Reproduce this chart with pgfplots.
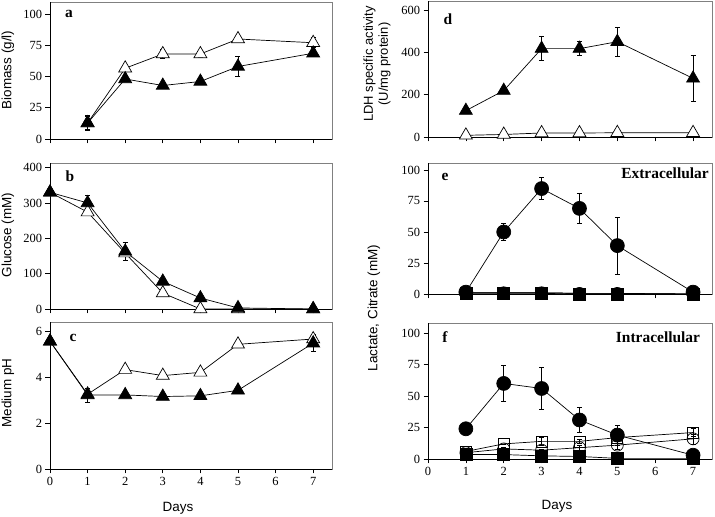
\documentclass[border=0pt]{standalone}
\usepackage{fontspec}
\setmainfont{Liberation Serif}
\newfontfamily\arial{Liberation Sans}
\usepackage{pgfplots}
\pgfplotsset{compat=1.18}
\definecolor{framegray}{RGB}{128,128,128}
\pgfplotsset{
  panel/.style={
    scale only axis, anchor=south west,
    xmin=0, xmax=7.5, ymin=0,
    xtick={0,1,2,3,4,5,6,7},
    xticklabels={},
    tick align=outside, tick pos=left,
    major tick length=4.5bp,
    tick style={black, line width=0.7bp},
    axis line style={draw=framegray, line width=0.8bp},
    ticklabel style={font=\rmfamily\fontsize{12.5}{14}\selectfont},
    /pgf/number format/assume math mode=true,
    clip=false,
  },
  withxlabels/.style={xticklabels={0,1,2,3,4,5,6,7}},
  eb/.style={error bars/.cd, y dir=both, y explicit,
    error bar style={line width=0.6bp, black, solid},
    error mark options={rotate=90, mark size=2.5bp, line width=0.6bp, black}},
  ln/.style={black, line width=0.7bp},
  ftri/.style={ln, mark=triangle*, mark size=7.5bp, mark options={fill=black, draw=black, solid}},
  otri/.style={ln, mark=triangle*, mark size=7.5bp, mark options={fill=white, draw=black, solid}},
  fcirc/.style={ln, mark=*, mark size=7bp, mark options={fill=black, draw=black, solid}},
  ocirc/.style={ln, mark=o, mark size=6bp, mark options={draw=black, solid}},
  osq/.style={ln, mark=square, mark size=5.5bp, mark options={draw=black, solid}},
  fsq/.style={ln, mark=square*, mark size=6bp, mark options={fill=black, draw=black, solid}},
}
\newcommand{\axlines}{%
  \draw[black, line width=0.8bp] (rel axis cs:0,0) -- (rel axis cs:0,1);
  \draw[black, line width=0.8bp] (rel axis cs:0,0) -- (rel axis cs:1,0);}
\begin{document}
\begin{tikzpicture}
% ---------------- panel a
\begin{axis}[panel, at={(50bp,378bp)}, width=282bp, height=137bp,
  ymax=109.6, ytick={0,25,50,75,100}]
\addplot[otri, eb] coordinates {(1,12.8)+-(0,5) (2,56.6)+-(0,1) (3,68)+-(0,3.5) (4,68)+-(0,3) (5,80)+-(0,2) (7,77)+-(0,4)};
\addplot[ftri, eb] coordinates {(1,12.8)+-(0,6) (2,48)+-(0,2) (3,42.8)+-(0,1) (4,46)+-(0,1) (5,58)+-(0,8) (7,68.6)+-(0,2)};
\axlines
\end{axis}
% ---------------- panel b
\begin{axis}[panel, at={(50bp,208bp)}, width=282bp, height=146bp,
  ymax=413, ytick={0,100,200,300,400}]
\addplot[otri, eb] coordinates {(0,330)+-(0,0) (1,274)+-(0,10) (2,158)+-(0,5) (3,45)+-(0,5) (4,0)+-(0,0) (5,0)+-(0,0) (7,0)+-(0,0)};
\addplot[ftri, eb] coordinates {(0,330)+-(0,0) (1,300)+-(0,23) (2,163)+-(0,26) (3,78)+-(0,5) (4,31)+-(0,3) (5,3)+-(0,0) (7,0)+-(0,0)};
\axlines
\end{axis}
% ---------------- panel c
\begin{axis}[panel, withxlabels, at={(50bp,48bp)}, width=282bp, height=147bp,
  ymax=6.39, ytick={0,2,4,6}]
\addplot[otri, eb] coordinates {(0,5.55)+-(0,0) (1,3.25)+-(0,0.1) (2,4.32)+-(0,0.1) (3,4.06)+-(0,0.1) (4,4.2)+-(0,0.1) (5,5.42)+-(0,0.1) (7,5.65)+-(0,0.2)};
\addplot[ftri, eb] coordinates {(0,5.55)+-(0,0) (1,3.22)+-(0,0.3) (2,3.22)+-(0,0.05) (3,3.15)+-(0,0.05) (4,3.18)+-(0,0.05) (5,3.42)+-(0,0.05) (7,5.47)+-(0,0.35)};
\axlines
\end{axis}
% ---------------- panel d
\begin{axis}[panel, at={(428bp,380bp)}, width=284bp, height=136bp,
  ymax=645, ytick={0,200,400,600}]
\addplot[otri, eb] coordinates {(1,8)+-(0,0) (2,12)+-(0,0) (3,19)+-(0,0) (4,19)+-(0,0) (5,20)+-(0,0) (7,20)+-(0,0)};
\addplot[ftri, eb] coordinates {(1,125)+-(0,0) (2,220)+-(0,0) (3,419)+-(0,57) (4,419)+-(0,33) (5,452)+-(0,68) (7,278)+-(0,110)};
\axlines
\end{axis}
% ---------------- panel e
\begin{axis}[panel, at={(428bp,223bp)}, width=284bp, height=131bp,
  ymax=105.6, ytick={0,25,50,75,100}]
\addplot[osq] coordinates {(1,1) (2,1) (3,1) (4,0.5) (5,0.5) (7,0)};
\addplot[ocirc] coordinates {(1,1) (2,1) (3,1) (4,0.5) (5,0.5) (7,0)};
\addplot[fsq] coordinates {(1,0.5) (2,0.5) (3,0.5) (4,0) (5,0) (7,0)};
\addplot[fcirc, eb] coordinates {(1,1.5)+-(0,0) (2,50)+-(0,7) (3,85)+-(0,9) (4,69)+-(0,12) (5,39)+-(0,23) (7,1.5)+-(0,0)};
\axlines
\end{axis}
% ---------------- panel f
\begin{axis}[panel, withxlabels, at={(428bp,58bp)}, width=284bp, height=136bp,
  ymax=108, ytick={0,25,50,75,100}]
\addplot[osq, eb] coordinates {(1,6)+-(0,0) (2,12)+-(0,0) (3,14)+-(0,3) (4,14)+-(0,1.5) (5,17)+-(0,0) (7,21)+-(0,3)};
\addplot[ocirc, eb] coordinates {(1,5)+-(0,0) (2,8)+-(0,1) (3,7)+-(0,1) (4,9)+-(0,2) (5,11)+-(0,3) (7,16)+-(0,4)};
\addplot[fsq] coordinates {(1,3.5) (2,3.5) (3,2.5) (4,2) (5,0.5) (7,0.5)};
\addplot[fcirc, eb] coordinates {(1,24)+-(0,0) (2,60)+-(0,14.5) (3,56)+-(0,16.5) (4,31)+-(0,10) (5,19)+-(0,8) (7,3)+-(0,0)};
\axlines
\end{axis}
% ---------------- texts
\begin{scope}[every node/.style={font=\rmfamily\bfseries\fontsize{15.5}{17}\selectfont, inner sep=0pt}]
\node at (69bp,503bp) {a};
\node at (70bp,341bp) {b};
\node at (73bp,179bp) {c};
\node at (448bp,498bp) {d};
\node at (445bp,340bp) {e};
\node at (445bp,180bp) {f};
\node at (665bp,344bp) {Extracellular};
\node at (658bp,180bp) {Intracellular};
\end{scope}
\begin{scope}[every node/.style={font=\arial\fontsize{13.5}{15.5}\selectfont, inner sep=0pt}]
\node[rotate=90] at (8bp,447bp) {Biomass (g/l)};
\node[rotate=90] at (8bp,282bp) {Glucose (mM)};
\node[rotate=90] at (8bp,124bp) {Medium pH};
\node[rotate=90, align=center, font=\arial\fontsize{13}{15}\selectfont] at (377bp,453bp) {LDH specific activity\\(U/mg protein)};
\node[rotate=90] at (374bp,209bp) {Lactate, Citrate (mM)};
\node at (178bp,9bp) {Days};
\node at (557bp,11bp) {Days};
\end{scope}
\pgfresetboundingbox
\path[use as bounding box] (0,0) rectangle (715bp,517bp);
\end{tikzpicture}
\end{document}
